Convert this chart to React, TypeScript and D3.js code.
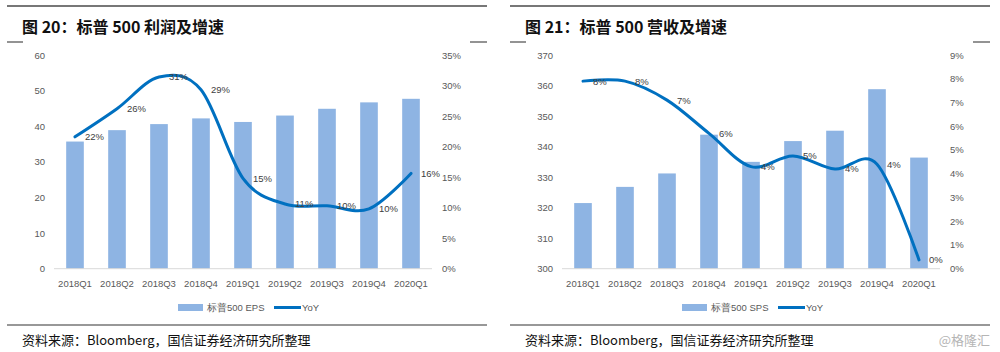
import React from 'react';
import * as d3 from 'd3';

// 季度
const quarters = ['2018Q1', '2018Q2', '2018Q3', '2018Q4', '2019Q1', '2019Q2', '2019Q3', '2019Q4', '2020Q1'];

// 图20 标普500 EPS 及同比
const epsValues = [35.7, 38.9, 40.6, 42.2, 41.2, 43.0, 44.9, 46.7, 47.7];
const epsYoy = [21.6, 26.2, 31.4, 29.3, 14.8, 10.6, 10.3, 9.8, 15.6];
const epsTicks = [0, 10, 20, 30, 40, 50, 60];
const epsYoyTicks = [0, 5, 10, 15, 20, 25, 30, 35];

// 图21 标普500 SPS 及同比
const spsValues = [321.5, 326.8, 331.2, 343.9, 335.0, 341.8, 345.2, 358.8, 336.4];
const spsYoy = [7.9, 7.9, 7.1, 5.7, 4.3, 4.75, 4.2, 4.4, 0.37];
const spsTicks = [300, 310, 320, 330, 340, 350, 360, 370];
const spsYoyTicks = [0, 1, 2, 3, 4, 5, 6, 7, 8, 9];

const FONT = '"Liberation Sans", Arial, sans-serif';
const CJK = '"Noto Sans CJK SC", sans-serif';

type PanelProps = {
    x0: number;       // 面板左侧
    plotLeft: number;
    title: string;
    barName: string;
    values: number[];
    yoy: number[];
    leftTicks: number[];
    rightTicks: number[];
    legendX: number;
    watermark?: boolean;
};

const Panel = (p: PanelProps) => {
    const top = 55;
    const bottom = 268.7;
    const plotRight = p.plotLeft + 378;

    const x = d3.scaleBand<string>()
        .domain(quarters)
        .range([p.plotLeft, plotRight])
        .paddingInner(0.58)
        .paddingOuter(0.29);
    const yL = d3.scaleLinear()
        .domain([p.leftTicks[0], p.leftTicks[p.leftTicks.length - 1]])
        .range([bottom, top]);
    const yR = d3.scaleLinear()
        .domain([0, p.rightTicks[p.rightTicks.length - 1]])
        .range([bottom, top]);
    const cx = (q: string) => (x(q) as number) + x.bandwidth() / 2;

    const line = d3.line<number>()
        .x((_, i) => cx(quarters[i]))
        .y(d => yR(d))
        .curve(d3.curveCatmullRom.alpha(0));

    const ruleRight = p.x0 + 480;

    return (
        <g>
            <line x1={p.x0} x2={ruleRight} y1={6} y2={6} stroke="#4a4a4a" strokeWidth={1.5} />
            <text x={p.x0 + 15} y={33} fontFamily={CJK} fontWeight="bold" fontSize={16} fill="#111">{p.title}</text>
            <line x1={p.x0} x2={p.x0 + 16} y1={42} y2={42} stroke="#4a4a4a" strokeWidth={1.2} />
            <line x1={ruleRight - 17} x2={ruleRight} y1={42} y2={42} stroke="#4a4a4a" strokeWidth={1.2} />

            {/* 左轴 */}
            {p.leftTicks.map(t => (
                <text key={'l' + t} x={p.plotLeft - 9} y={yL(t) + 3.5} textAnchor="end"
                    fontFamily={FONT} fontSize={9.5} fill="#595959">{t}</text>
            ))}
            {/* 右轴 */}
            {p.rightTicks.map(t => (
                <text key={'r' + t} x={plotRight + 10} y={yR(t) + 3.5}
                    fontFamily={FONT} fontSize={9.5} fill="#595959">{t}%</text>
            ))}

            {/* 柱 */}
            {p.values.map((v, i) => (
                <rect key={quarters[i]} x={x(quarters[i])} y={yL(v)} width={x.bandwidth()}
                    height={bottom - yL(v)} fill="#8EB4E3" />
            ))}
            <line x1={p.plotLeft} x2={plotRight} y1={bottom} y2={bottom} stroke="#D9D9D9" />

            {/* x 轴标签 */}
            {quarters.map(q => (
                <text key={q} x={cx(q)} y={287} textAnchor="middle"
                    fontFamily={FONT} fontSize={9.5} fill="#595959">{q}</text>
            ))}

            {/* 同比线 */}
            <path d={line(p.yoy) || ''} fill="none" stroke="#0070C0" strokeWidth={3} strokeLinecap="round" />
            {p.yoy.map((v, i) => (
                <text key={'v' + i} x={cx(quarters[i]) + 10} y={yR(v) + 3.5}
                    fontFamily={FONT} fontSize={9.5} fill="#404040">{Math.round(v)}%</text>
            ))}

            {/* 图例 */}
            <rect x={p.legendX} y={304} width={25} height={7} fill="#8EB4E3" />
            <text x={p.legendX + 29} y={311} fontFamily={FONT} fontSize={9.5} fill="#595959">{p.barName}</text>
            <line x1={p.legendX + 96} x2={p.legendX + 123} y1={307.5} y2={307.5} stroke="#0070C0" strokeWidth={3} />
            <text x={p.legendX + 124} y={311} fontFamily={FONT} fontSize={9.5} fill="#595959">YoY</text>

            <line x1={p.x0} x2={ruleRight} y1={325} y2={325} stroke="#333" strokeWidth={1.2} />
            <text x={p.x0 + 15} y={345} fontFamily={CJK} fontSize={13} fill="#111">资料来源：Bloomberg，国信证券经济研究所整理</text>
            {p.watermark && (
                <text x={990} y={345} textAnchor="end" fontFamily={CJK} fontSize={13} fill="#b5b5b5">@格隆汇</text>
            )}
        </g>
    );
};

const App = () => {
    return (
        <svg width={1000} height={352} style={{ position: 'absolute', left: 0, top: 0, background: '#fff' }}>
            <rect width={1000} height={352} fill="#fff" />
            <Panel x0={7} plotLeft={54} title="图 20：标普 500 利润及增速" barName="标普500 EPS"
                values={epsValues} yoy={epsYoy} leftTicks={epsTicks} rightTicks={epsYoyTicks} legendX={178} />
            <Panel x0={510} plotLeft={562} title="图 21：标普 500 营收及增速" barName="标普500 SPS"
                values={spsValues} yoy={spsYoy} leftTicks={spsTicks} rightTicks={spsYoyTicks} legendX={682} watermark />
        </svg>
    );
};

export default App;
